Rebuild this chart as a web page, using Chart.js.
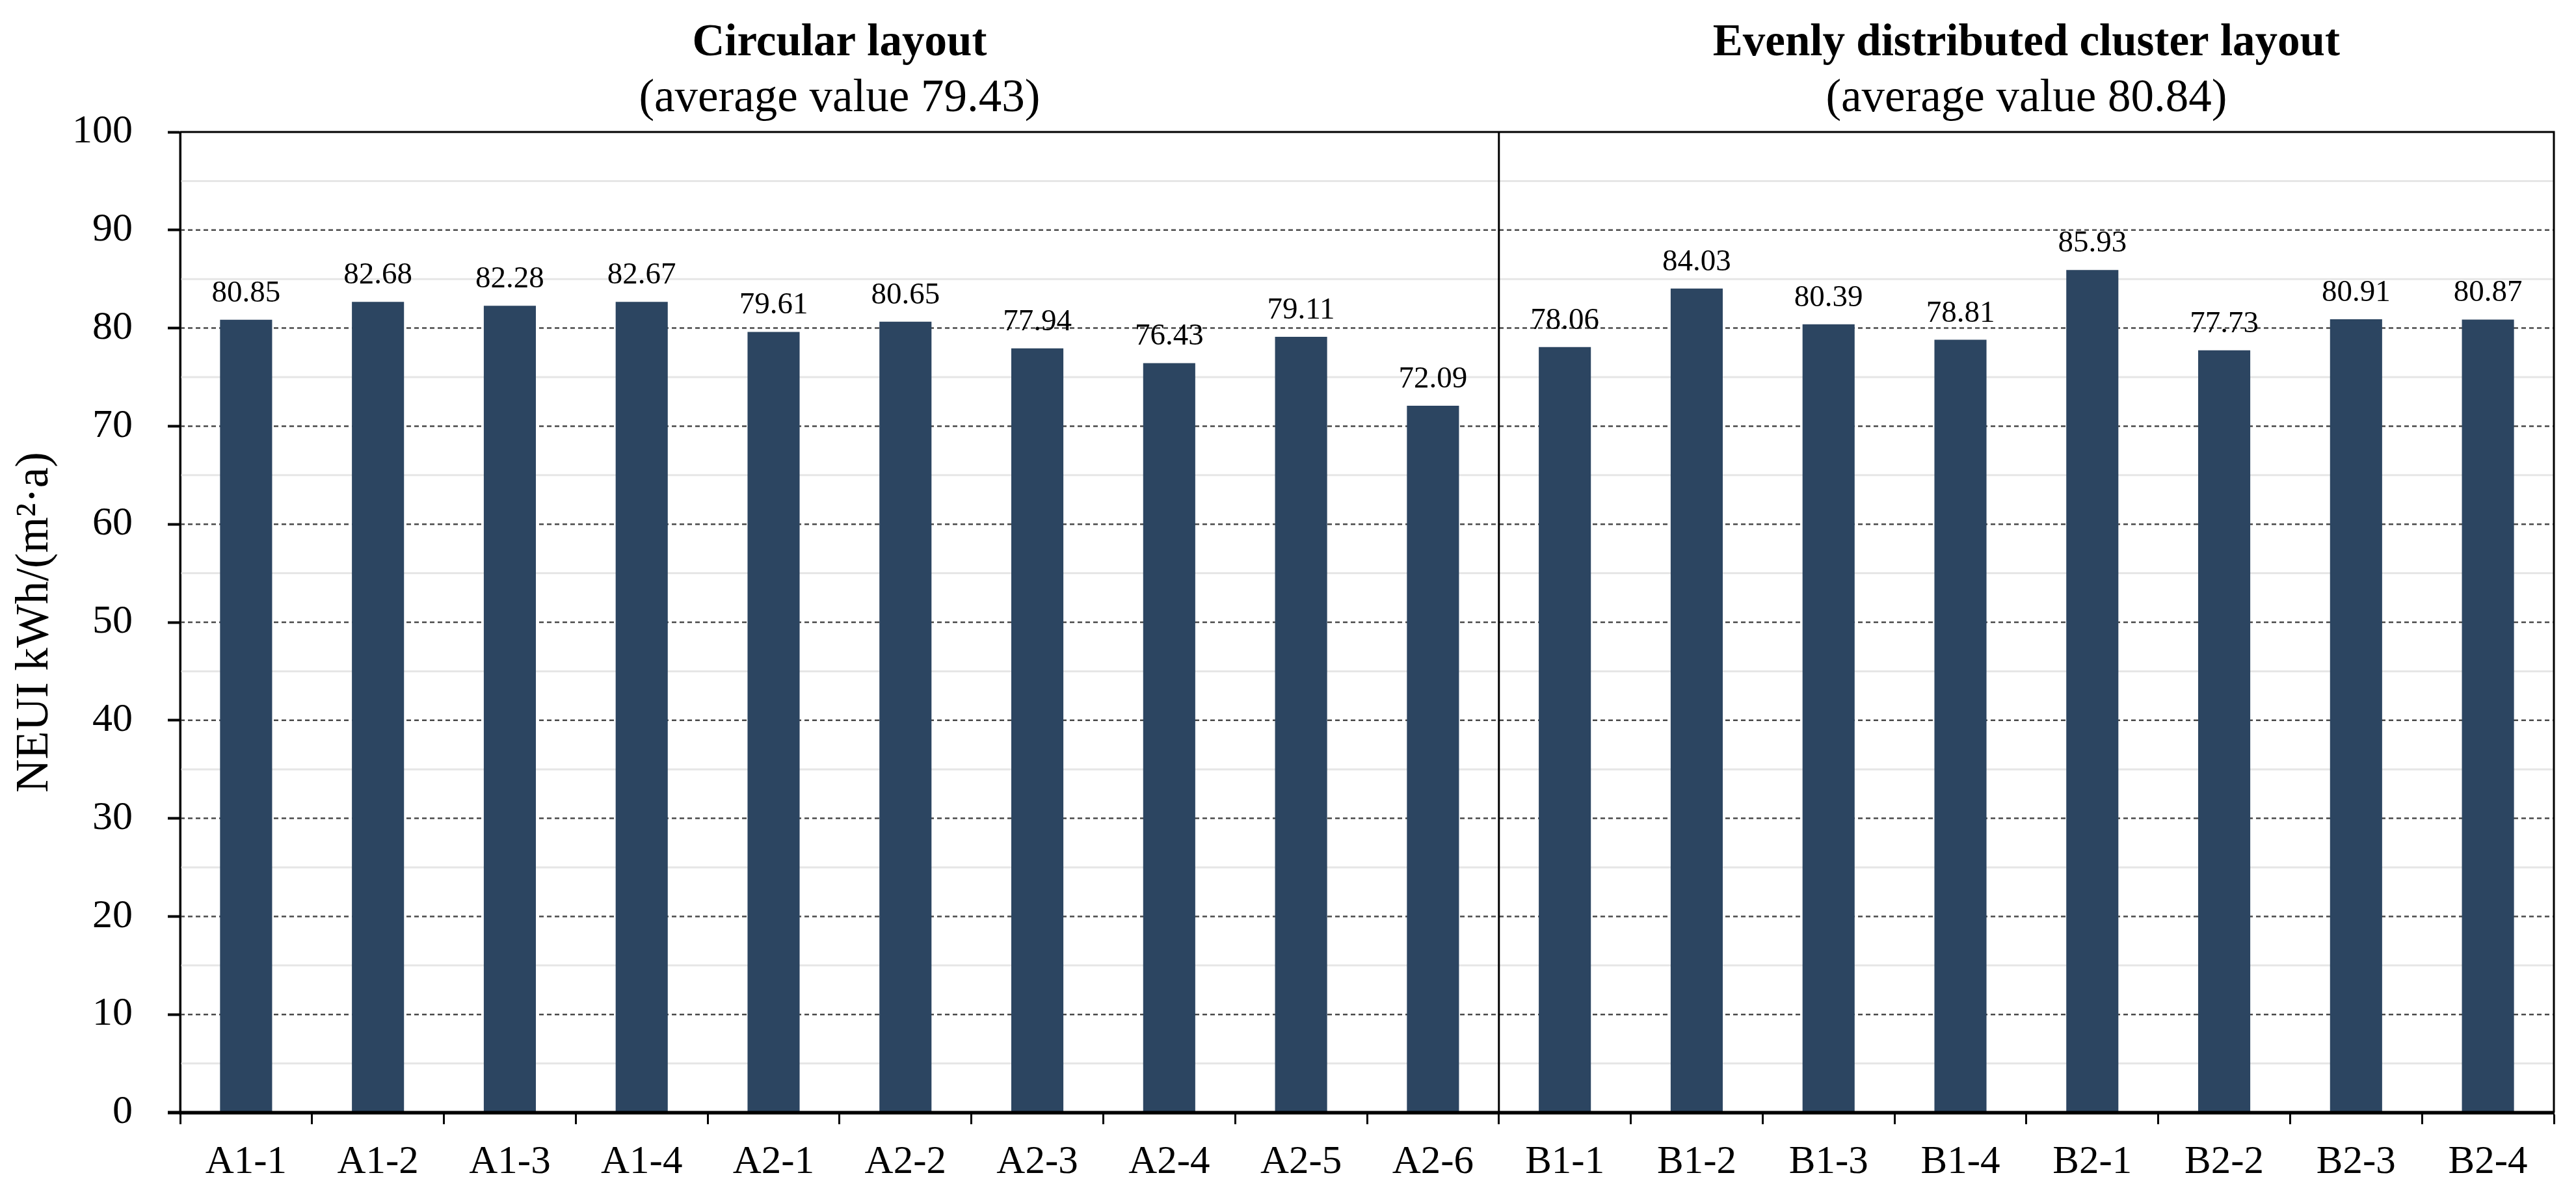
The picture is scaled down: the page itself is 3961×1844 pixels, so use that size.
<!DOCTYPE html>
<html>
<head>
<meta charset="utf-8">
<script src="https://cdn.jsdelivr.net/npm/chart.js@4.4.1/dist/chart.umd.min.js"></script>
<style>
  body { margin: 0; background: #fff; }
  canvas { display: block; }
</style>
</head>
<body>
<canvas id="myChart" width="3961" height="1844" style="width:3961px;height:1844px"></canvas>
<script>
'use strict'
// chart data
var categories = ['A1-1', 'A1-2', 'A1-3', 'A1-4', 'A2-1', 'A2-2', 'A2-3', 'A2-4', 'A2-5', 'A2-6',
    'B1-1', 'B1-2', 'B1-3', 'B1-4', 'B2-1', 'B2-2', 'B2-3', 'B2-4'];
var neuiValues = [80.85, 82.68, 82.28, 82.67, 79.61, 80.65, 77.94, 76.43, 79.11, 72.09,
    78.06, 84.03, 80.39, 78.81, 85.93, 77.73, 80.91, 80.87];
var yTicks = [0, 10, 20, 30, 40, 50, 60, 70, 80, 90, 100];
var groupTitles = ['Circular layout', 'Evenly distributed cluster layout'];
var groupSubtitles = ['(average value 79.43)', '(average value 80.84)'];
var groupSize = 10; // first 10 bars belong to the circular layout
var yTitle = 'NEUI kWh/(m\u00B2\u00B7a)';

var serif = "'Liberation Serif', 'Times New Roman', serif";
var barColor = '#2c4561';

// white background
var bgPlugin = {
    id: 'bg',
    beforeDraw: function (chart) {
        var ctx = chart.ctx;
        ctx.save();
        ctx.fillStyle = '#fff';
        ctx.fillRect(0, 0, chart.width, chart.height);
        ctx.restore();
    }
};

// horizontal grid lines: dashed at 10s, light solid at 5s
var gridPlugin = {
    id: 'grid',
    beforeDatasetsDraw: function (chart) {
        var ctx = chart.ctx;
        var y = chart.scales.y;
        var area = chart.chartArea;
        ctx.save();
        for (var i = 0; i < yTicks.length - 1; i++) {
            var mid = (yTicks[i] + yTicks[i + 1]) / 2;
            var py = y.getPixelForValue(mid);
            ctx.strokeStyle = '#e6e6e6';
            ctx.lineWidth = 3;
            ctx.setLineDash([]);
            ctx.beginPath();
            ctx.moveTo(area.left, py);
            ctx.lineTo(area.right, py);
            ctx.stroke();
            if (i > 0) {
                var pyMajor = y.getPixelForValue(yTicks[i]);
                ctx.strokeStyle = '#4a4a4a';
                ctx.lineWidth = 2.5;
                ctx.setLineDash([7, 5]);
                ctx.beginPath();
                ctx.moveTo(area.left, pyMajor);
                ctx.lineTo(area.right, pyMajor);
                ctx.stroke();
            }
        }
        ctx.restore();
    }
};

function dividerX(chart) {
    var x = chart.scales.x;
    return (x.getPixelForValue(groupSize - 1) + x.getPixelForValue(groupSize)) / 2;
}

// box, divider, value labels and group titles
var overlayPlugin = {
    id: 'overlay',
    afterDatasetsDraw: function (chart) {
        var ctx = chart.ctx;
        var area = chart.chartArea;
        var divX = dividerX(chart);
        ctx.save();
        ctx.strokeStyle = '#000';
        ctx.setLineDash([]);
        ctx.lineWidth = 3;
        ctx.beginPath();
        ctx.moveTo(area.left, area.top);
        ctx.lineTo(area.right, area.top);
        ctx.lineTo(area.right, area.bottom);
        ctx.moveTo(area.left, area.top);
        ctx.lineTo(area.left, area.bottom);
        ctx.moveTo(divX, area.top);
        ctx.lineTo(divX, area.bottom);
        ctx.stroke();
        ctx.lineWidth = 5;
        ctx.beginPath();
        ctx.moveTo(area.left - 19, area.bottom);
        ctx.lineTo(area.right, area.bottom);
        ctx.stroke();

        // value labels
        var meta = chart.getDatasetMeta(0);
        ctx.fillStyle = '#000';
        ctx.font = '47px ' + serif;
        ctx.textAlign = 'center';
        ctx.textBaseline = 'alphabetic';
        for (var i = 0; i < meta.data.length; i++) {
            var bar = meta.data[i];
            ctx.fillText(neuiValues[i].toFixed(2), bar.x, bar.y - 28);
        }

        // group titles
        var centers = [(area.left + divX) / 2, (divX + area.right) / 2];
        for (var g = 0; g < 2; g++) {
            ctx.font = 'bold 69px ' + serif;
            ctx.fillText(groupTitles[g], centers[g], 85);
            ctx.font = '71px ' + serif;
            ctx.fillText(groupSubtitles[g], centers[g], 171);
        }
        ctx.restore();
    }
};

var ctx = document.getElementById('myChart').getContext('2d');
var chart = new Chart(ctx, {
    type: 'bar',
    data: {
        labels: categories,
        datasets: [{
            label: 'NEUI',
            data: neuiValues,
            backgroundColor: barColor,
            borderWidth: 0,
            barPercentage: 0.395,
            categoryPercentage: 1.0
        }]
    },
    options: {
        responsive: false,
        animation: false,
        devicePixelRatio: 1,
        layout: { padding: { top: 203, right: 34, left: 0, bottom: 0 } },
        plugins: {
            legend: { display: false },
            tooltip: { enabled: false }
        },
        scales: {
            x: {
                grid: {
                    offset: true,
                    drawOnChartArea: false,
                    drawTicks: true,
                    tickLength: 18,
                    tickWidth: 3,
                    tickColor: '#000'
                },
                border: { display: true, color: '#000', width: 5 },
                ticks: {
                    color: '#000',
                    font: { family: serif, size: 61 },
                    padding: 22,
                    maxRotation: 0,
                    autoSkip: false
                },
                afterFit: function (scale) { scale.height = 133; }
            },
            y: {
                min: 0,
                max: 100,
                ticks: {
                    stepSize: 10,
                    color: '#000',
                    font: { family: serif, size: 62 },
                    padding: 54
                },
                grid: {
                    drawOnChartArea: false,
                    drawTicks: true,
                    tickLength: 19,
                    tickWidth: 4,
                    tickColor: '#000'
                },
                border: { display: true, color: '#000', width: 3 },
                title: {
                    display: true,
                    text: yTitle,
                    color: '#000',
                    font: { family: serif, size: 71 },
                    padding: { top: 12, bottom: 0 }
                },
                afterFit: function (scale) { scale.width = 277; }
            }
        }
    },
    plugins: [bgPlugin, gridPlugin, overlayPlugin]
});
</script>
</body>
</html>
